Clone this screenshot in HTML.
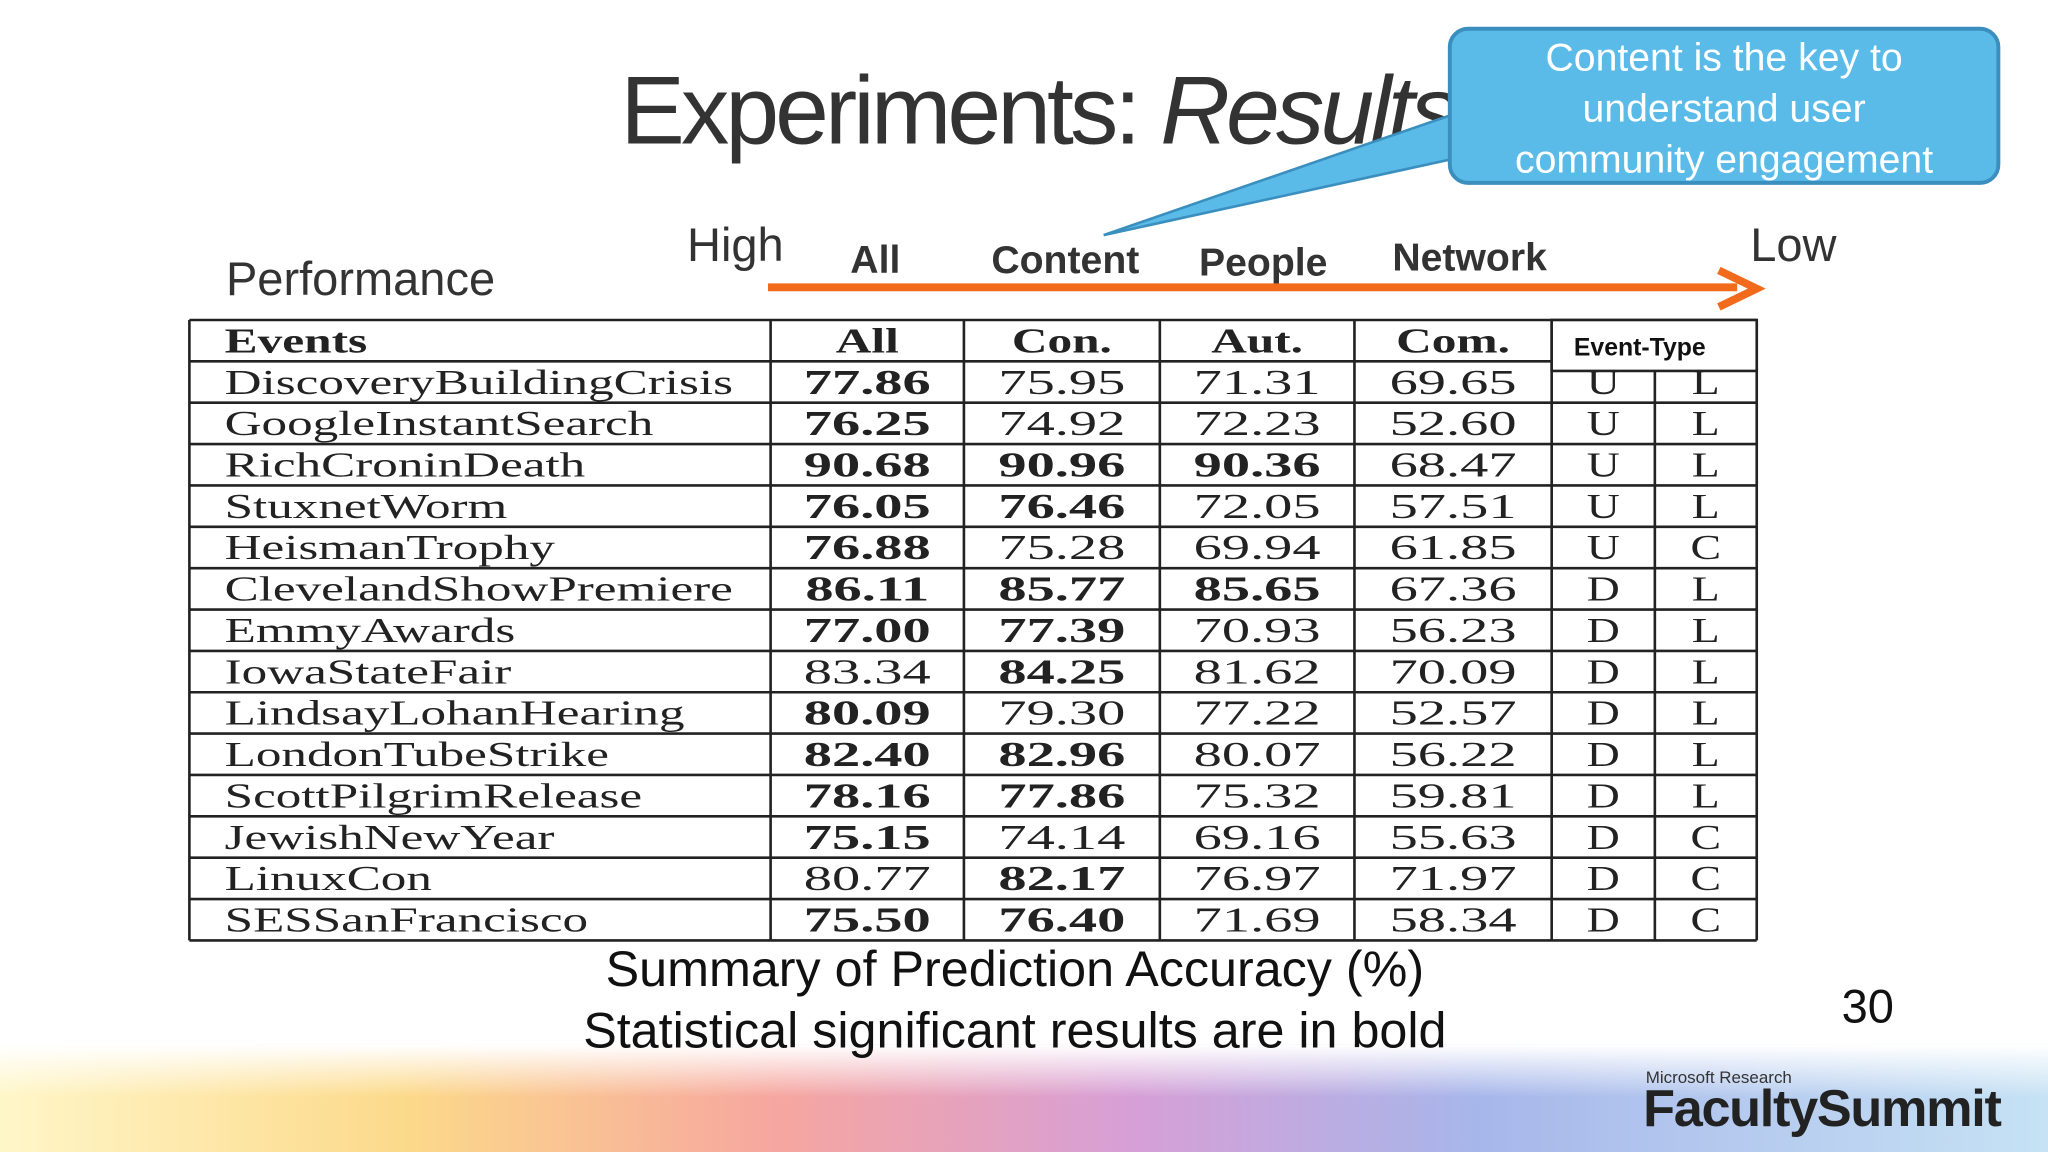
<!DOCTYPE html>
<html><head><meta charset="utf-8"><style>
html,body{margin:0;padding:0;background:#fff;}
svg{display:block;}
</style></head><body>
<svg id="slide" width="2048" height="1152" viewBox="0 0 1568 882" preserveAspectRatio="none" xmlns="http://www.w3.org/2000/svg">
<defs>
<linearGradient id="rb" x1="0" x2="1" y1="0" y2="0">
<stop offset="0" stop-color="#fff6c8"/><stop offset="0.2" stop-color="#fcd98a"/>
<stop offset="0.38" stop-color="#f6a6a0"/><stop offset="0.55" stop-color="#d79fd6"/>
<stop offset="0.72" stop-color="#a7b6ea"/><stop offset="1" stop-color="#c6e2f4"/>
</linearGradient>
<linearGradient id="fade" x1="0" x2="0" y1="0" y2="1">
<stop offset="0" stop-color="#fff" stop-opacity="1"/><stop offset="1" stop-color="#fff" stop-opacity="0"/>
</linearGradient>
</defs>
<rect x="0" y="0" width="1568" height="882" fill="#fff"/>
<rect x="0" y="800" width="1568" height="82" fill="url(#rb)"/>
<rect x="0" y="800" width="1568" height="40" fill="url(#fade)"/>
<text x="475" y="110" font-family="Liberation Sans, sans-serif" font-size="74" fill="#333" letter-spacing="-3">Experiments: <tspan font-style="italic">Results</tspan></text>
<path d="M1120 85 L845 180 L1120 120 Z" fill="#5bbbe8" stroke="#3a8fbf" stroke-width="2"/>
<rect x="1110" y="22" width="420" height="118" rx="14" fill="#5bbbe8" stroke="#3a8fbf" stroke-width="3"/>
<g font-family="Liberation Sans, sans-serif" font-size="30" fill="#fff" text-anchor="middle">
<text x="1320" y="54">Content is the key to</text>
<text x="1320" y="93">understand user</text>
<text x="1320" y="132">community engagement</text>
</g>
<g font-family="Liberation Sans, sans-serif" fill="#333">
<text x="173" y="226" font-size="36">Performance</text>
<text x="526" y="200" font-size="36">High</text>
<text x="1340" y="200" font-size="36">Low</text>
<text x="651" y="209" font-size="30" font-weight="bold">All</text>
<text x="759" y="209" font-size="30" font-weight="bold">Content</text>
<text x="918" y="211" font-size="30" font-weight="bold">People</text>
<text x="1066" y="207" font-size="30" font-weight="bold">Network</text>
</g>
<line x1="588" y1="220" x2="1330" y2="220" stroke="#f26a1b" stroke-width="6"/>
<path d="M1316 207 L1345 221 L1316 235" fill="none" stroke="#f26a1b" stroke-width="6"/>
<g id="table"></g>
<rect x="1188" y="245" width="157" height="39" fill="#fff" stroke="#222" stroke-width="2"/>
<text x="1205" y="272" font-family="Liberation Sans, sans-serif" font-size="19" font-weight="bold" fill="#111">Event-Type</text>
<g font-family="Liberation Sans, sans-serif" font-size="38.5" fill="#111" text-anchor="middle">
<text x="777" y="755">Summary of Prediction Accuracy (%)</text>
<text x="777" y="802">Statistical significant results are in bold</text>
</g>
<text x="1410" y="783" font-family="Liberation Sans, sans-serif" font-size="36" fill="#111">30</text>
<text x="1260" y="829" font-family="Liberation Sans, sans-serif" font-size="13" fill="#333">Microsoft Research</text>
<text x="1258" y="862" font-family="Liberation Sans, sans-serif" font-size="40" font-weight="bold" fill="#222" letter-spacing="-1">FacultySummit</text>
</svg>
<script>
const events=["DiscoveryBuildingCrisis","GoogleInstantSearch","RichCroninDeath","StuxnetWorm","HeismanTrophy","ClevelandShowPremiere","EmmyAwards","IowaStateFair","LindsayLohanHearing","LondonTubeStrike","ScottPilgrimRelease","JewishNewYear","LinuxCon","SESSanFrancisco"];
const allVals=["77.86","76.25","90.68","76.05","76.88","86.11","77.00","83.34","80.09","82.40","78.16","75.15","80.77","75.50"];
const conVals=["75.95","74.92","90.96","76.46","75.28","85.77","77.39","84.25","79.30","82.96","77.86","74.14","82.17","76.40"];
const autVals=["71.31","72.23","90.36","72.05","69.94","85.65","70.93","81.62","77.22","80.07","75.32","69.16","76.97","71.69"];
const comVals=["69.65","52.60","68.47","57.51","61.85","67.36","56.23","70.09","52.57","56.22","59.81","55.63","71.97","58.34"];
const allBold=[1,1,1,1,1,1,1,0,1,1,1,1,0,1];
const conBold=[0,0,1,1,0,1,1,1,0,1,1,0,1,1];
const autBold=[0,0,1,0,0,1,0,0,0,0,0,0,0,0];
const type1=["U","U","U","U","U","D","D","D","D","D","D","D","D","D"];
const type2=["L","L","L","L","C","L","L","L","L","L","L","C","C","C"];
const headers=["Events","All","Con.","Aut.","Com."];
const NS="http://www.w3.org/2000/svg";
const tbl=document.getElementById('table');
const X=[145,590,738,888,1037,1188,1267,1345], tTop=245, rh=(720-245)/15;
function mkLine(x1,y1,x2,y2,w){const l=document.createElementNS(NS,'line');l.setAttribute('x1',x1);l.setAttribute('y1',y1);l.setAttribute('x2',x2);l.setAttribute('y2',y2);l.setAttribute('stroke','#222');l.setAttribute('stroke-width',w);


tbl.appendChild(l);}
function mkTxt(x,y,s,bold,anchor,name,stretch){const t=document.createElementNS(NS,'text');t.setAttribute('x',x);t.setAttribute('y',y);t.setAttribute('font-family','Liberation Serif, serif');t.setAttribute('font-size','27');t.setAttribute('fill','#222');t.setAttribute('text-anchor',anchor);if(bold)t.setAttribute('font-weight','bold');t.textContent=s;


tbl.appendChild(t);
const w=t.getComputedTextLength();
if(w>0){t.setAttribute('textLength',(w*stretch).toFixed(1));t.setAttribute('lengthAdjust','spacingAndGlyphs');}}
for(let i=0;i<=15;i++)mkLine(X[0],tTop+i*rh,X[7],tTop+i*rh,2);
X.forEach(x=>mkLine(x,tTop,x,720,2));
const colMid=i=>(X[i]+X[i+1])/2;
mkTxt(172,tTop+rh*0.5+9,headers[0],true,'start','header-events',1.4);
for(let c=1;c<5;c++)mkTxt(colMid(c),tTop+rh*0.5+9,headers[c],true,'middle','header-'+headers[c].toLowerCase().replace('.',''),1.4);
events.forEach((e,i)=>{const y=tTop+rh*(i+1.5)+9;
mkTxt(172,y,e,false,'start','event-name',1.45);
mkTxt(colMid(1),y,allVals[i],allBold[i],'middle','value-all',1.6);
mkTxt(colMid(2),y,conVals[i],conBold[i],'middle','value-con',1.6);
mkTxt(colMid(3),y,autVals[i],autBold[i],'middle','value-aut',1.6);
mkTxt(colMid(4),y,comVals[i],false,'middle','value-com',1.6);
mkTxt(colMid(5),y,type1[i],false,'middle','type-1',1.3);
mkTxt(colMid(6),y,type2[i],false,'middle','type-2',1.3);});
</script>
</body></html>
